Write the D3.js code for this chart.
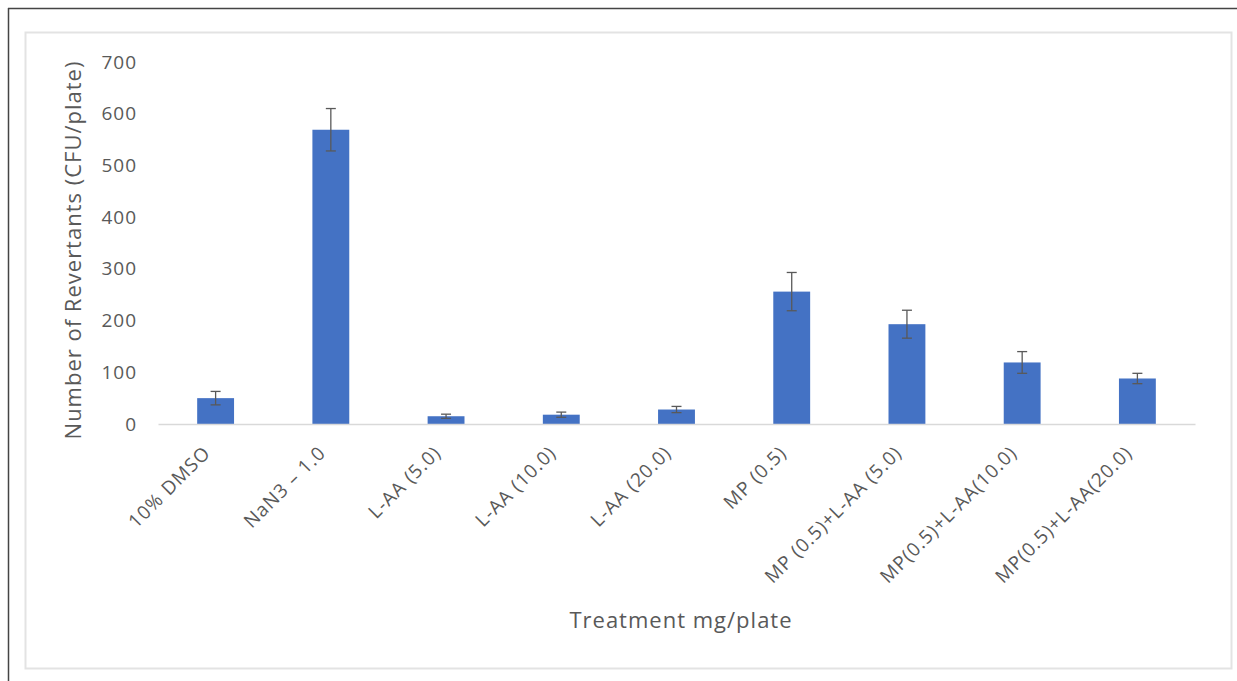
<!DOCTYPE html>
<html>
<head>
    <meta charset="UTF-8">
    <title>Revertants by treatment</title>
    <style>
        body {
            margin: 0;
            overflow: hidden;
            background-color: #ffffff;
            font-family: "Open Sans", "Liberation Sans", sans-serif;
        }
    </style>
    <script src="https://cdn.jsdelivr.net/npm/d3@7"></script>
</head>
<body>
    <script>
        // treatments (mg/plate) and values
        const categories = ["10% DMSO", "NaN3 \u2013 1.0", "L-AA (5.0)", "L-AA (10.0)", "L-AA (20.0)",
            "MP (0.5)", "MP (0.5)+L-AA (5.0)", "MP(0.5)+L-AA(10.0)", "MP(0.5)+L-AA(20.0)"];
        const means = [50, 569, 15, 18, 28, 256, 193, 119, 88];
        const errors = [13, 41, 4, 5, 6, 37, 27, 21, 10];
        const yTicks = [0, 100, 200, 300, 400, 500, 600, 700];

        const width = 1237;
        const height = 681;
        const svg = d3.select('body')
            .append('svg')
            .attr('width', width)
            .attr('height', height);

        // outer page lines
        svg.append('line')
            .attr('x1', 8).attr('x2', width).attr('y1', 8.5).attr('y2', 8.5)
            .attr('stroke', '#444').attr('stroke-width', 1.5);
        svg.append('line')
            .attr('x1', 8.5).attr('x2', 8.5).attr('y1', 8).attr('y2', height)
            .attr('stroke', '#444').attr('stroke-width', 1.5);

        // chart frame
        svg.append('rect')
            .attr('x', 25.5).attr('y', 32.5)
            .attr('width', 1206).attr('height', 636)
            .attr('fill', '#fff')
            .attr('stroke', '#e3e3e3').attr('stroke-width', 2);

        const margin = {top: 62, left: 158, right: 1195, bottom: 424};

        const x = d3.scaleBand()
            .domain(categories)
            .range([margin.left, margin.right])
            .paddingInner(0.68)
            .paddingOuter(0.34);

        const y = d3.scaleLinear()
            .domain([0, 700])
            .range([margin.bottom, margin.top]);

        // y axis labels (no line)
        const yAxis = svg.append('g')
            .attr('transform', `translate(137, 0)`)
            .call(d3.axisLeft(y).tickValues(yTicks).tickSize(0).tickPadding(0));
        yAxis.select('.domain').remove();
        yAxis.selectAll('text')
            .attr('fill', '#595959')
            .style('font-size', '19px')
            .style('letter-spacing', '1px')
            .style('font-family', '"Open Sans", sans-serif');

        // bars
        svg.selectAll('rect.bar')
            .data(categories)
            .join('rect')
            .attr('class', 'bar')
            .attr('x', d => x(d))
            .attr('width', x.bandwidth())
            .attr('y', (d, i) => y(means[i]))
            .attr('height', (d, i) => y(0) - y(means[i]))
            .attr('fill', '#4472c4');

        // error bars
        const eb = svg.selectAll('g.err')
            .data(categories)
            .join('g')
            .attr('class', 'err')
            .attr('stroke', '#595959')
            .attr('stroke-width', 1.3);
        eb.append('line')
            .attr('x1', d => x(d) + x.bandwidth() / 2)
            .attr('x2', d => x(d) + x.bandwidth() / 2)
            .attr('y1', (d, i) => y(means[i] + errors[i]))
            .attr('y2', (d, i) => y(means[i] - errors[i]));
        eb.append('line')
            .attr('x1', d => x(d) + x.bandwidth() / 2 - 5)
            .attr('x2', d => x(d) + x.bandwidth() / 2 + 5)
            .attr('y1', (d, i) => y(means[i] + errors[i]))
            .attr('y2', (d, i) => y(means[i] + errors[i]));
        eb.append('line')
            .attr('x1', d => x(d) + x.bandwidth() / 2 - 5)
            .attr('x2', d => x(d) + x.bandwidth() / 2 + 5)
            .attr('y1', (d, i) => y(means[i] - errors[i]))
            .attr('y2', (d, i) => y(means[i] - errors[i]));

        // x axis
        const xAxis = svg.append('g')
            .attr('transform', `translate(0, ${margin.bottom})`)
            .call(d3.axisBottom(x).tickSize(0).tickPadding(0));
        xAxis.select('.domain')
            .attr('stroke', '#d9d9d9')
            .attr('stroke-width', 1.5);
        xAxis.selectAll('text')
            .attr('fill', '#595959')
            .style('font-size', '19px')
            .style('letter-spacing', '1px')
            .style('font-family', '"Open Sans", sans-serif')
            .attr('text-anchor', 'end')
            .attr('dy', 0)
            .attr('transform', 'translate(-4, 30) rotate(-45)');

        // axis titles
        svg.append('text')
            .attr('text-anchor', 'middle')
            .attr('transform', `translate(81, 250) rotate(-90)`)
            .attr('fill', '#595959')
            .style('font-size', '22px')
            .style('letter-spacing', '1px')
            .text('Number of Revertants (CFU/plate)');

        svg.append('text')
            .attr('text-anchor', 'middle')
            .attr('x', 681)
            .attr('y', 628)
            .attr('fill', '#595959')
            .style('font-size', '22px')
            .style('letter-spacing', '1px')
            .text('Treatment mg/plate');
    </script>
</body>
</html>
